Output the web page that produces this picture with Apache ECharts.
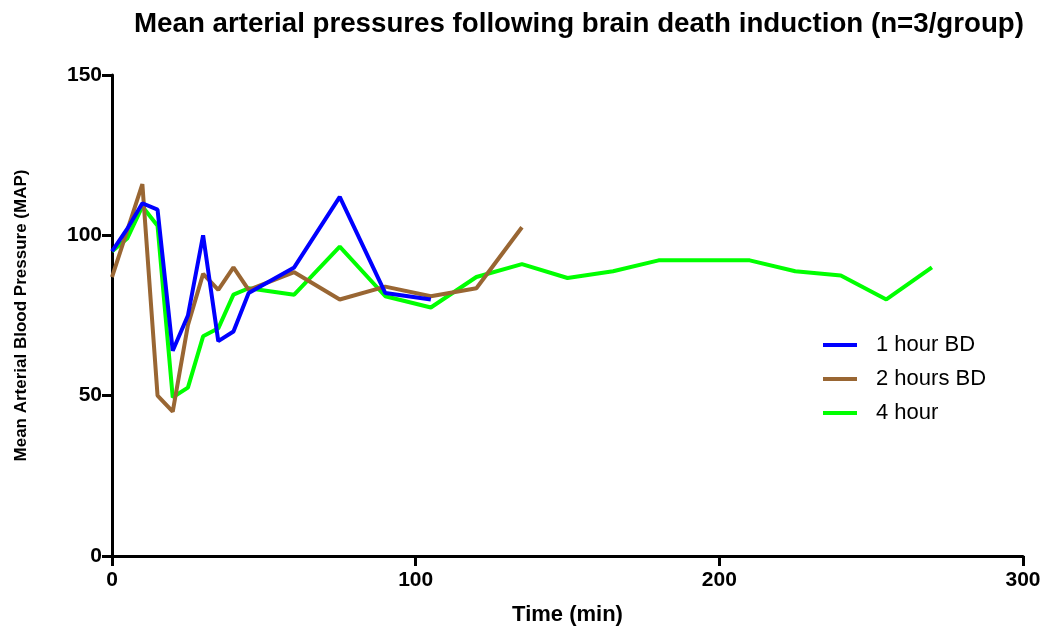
<!DOCTYPE html>
<html>
<head>
<meta charset="utf-8">
<script src="https://cdn.jsdelivr.net/npm/echarts@6/dist/echarts.min.js"></script>
<style>
html,body{margin:0;padding:0;background:#fff;}
#chart{width:1047px;height:633px;}
</style>
</head>
<body>
<div id="chart"></div>
<script>
var titleText = 'Mean arterial pressures following brain death induction (n=3/group)';
var xName = 'Time (min)';
var yName = 'Mean Arterial Blood Pressure (MAP)';
var seriesNames = ['1 hour BD', '2 hours BD', '4 hour'];

var time1h = [0, 5, 10, 15, 20, 25, 30, 35, 40, 45, 60, 75, 90, 105];
var map1h  = [95, 102, 110, 108, 64, 75, 100, 67, 70, 82, 90, 112, 82, 80];

var time2h = [0, 10, 15, 20, 25, 30, 35, 40, 45, 60, 75, 90, 105, 120, 135];
var map2h  = [87, 116, 50, 45, 72, 88, 83, 90, 83, 88.5, 80, 84, 81, 83.5, 102.5];

var time4h = [0, 5, 10, 15, 20, 25, 30, 35, 40, 45, 60, 75, 90, 105, 120, 135, 150, 165, 180, 195, 210, 225, 240, 255, 270];
var map4h  = [95, 99, 109, 103, 49.5, 52.5, 68.5, 71, 81.5, 83.5, 81.5, 96.5, 81, 77.5, 87, 91, 86.7, 88.8, 92.2, 92.2, 92.2, 88.8, 87.5, 80, 90];

var xTicks = [0, 100, 200, 300];
var yTicks = [0, 50, 100, 150];

function pairs(xs, ys) { return xs.map(function (x, i) { return [x, ys[i]]; }); }

var chart = echarts.init(document.getElementById('chart'), null, {renderer: 'canvas'});
var font = 'Arial, "Liberation Sans", Helvetica, sans-serif';
chart.setOption({
  animation: false,
  backgroundColor: '#ffffff',
  title: {
    text: titleText,
    left: 574, top: 5,
    textAlign: 'center',
    textStyle: {fontFamily: font, fontSize: 27.7, fontWeight: 'bold', color: '#000'}
  },
  grid: {left: 112, right: 24, top: 75, bottom: 77, containLabel: false},
  legend: {
    orient: 'vertical',
    left: 818, top: 328,
    data: seriesNames,
    icon: 'rect',
    itemWidth: 34, itemHeight: 4,
    itemGap: 10,
    textStyle: {fontFamily: font, fontSize: 22, color: '#000', lineHeight: 24, padding: [0, 0, 0, 14]}
  },
  xAxis: {
    type: 'value',
    min: xTicks[0], max: xTicks[xTicks.length - 1], interval: 100,
    name: xName, nameLocation: 'middle', nameGap: 48,
    nameTextStyle: {fontFamily: font, fontSize: 22, fontWeight: 'bold', color: '#000'},
    axisLine: {show: true, onZero: false, lineStyle: {color: '#000', width: 3}},
    axisTick: {show: true, length: 10, lineStyle: {color: '#000', width: 3}},
    axisLabel: {fontFamily: font, fontSize: 21, fontWeight: 'bold', color: '#000', margin: 14},
    splitLine: {show: false}
  },
  yAxis: {
    type: 'value',
    min: yTicks[0], max: yTicks[yTicks.length - 1], interval: 50,
    name: yName, nameLocation: 'middle', nameGap: 82,
    nameTextStyle: {fontFamily: font, fontSize: 17, fontWeight: 'bold', color: '#000'},
    axisLine: {show: true, onZero: false, lineStyle: {color: '#000', width: 3}},
    axisTick: {show: true, length: 10, lineStyle: {color: '#000', width: 3}},
    axisLabel: {fontFamily: font, fontSize: 21, fontWeight: 'bold', color: '#000', margin: 10},
    splitLine: {show: false}
  },
  series: [
    {name: seriesNames[2], type: 'line', data: pairs(time4h, map4h), showSymbol: false, symbol: 'none',
     lineStyle: {color: '#00ff00', width: 4}, itemStyle: {color: '#00ff00'}, z: 2},
    {name: seriesNames[1], type: 'line', data: pairs(time2h, map2h), showSymbol: false, symbol: 'none',
     lineStyle: {color: '#996633', width: 4}, itemStyle: {color: '#996633'}, z: 3},
    {name: seriesNames[0], type: 'line', data: pairs(time1h, map1h), showSymbol: false, symbol: 'none',
     lineStyle: {color: '#0000ff', width: 4}, itemStyle: {color: '#0000ff'}, z: 4}
  ]
});
</script>
</body>
</html>
